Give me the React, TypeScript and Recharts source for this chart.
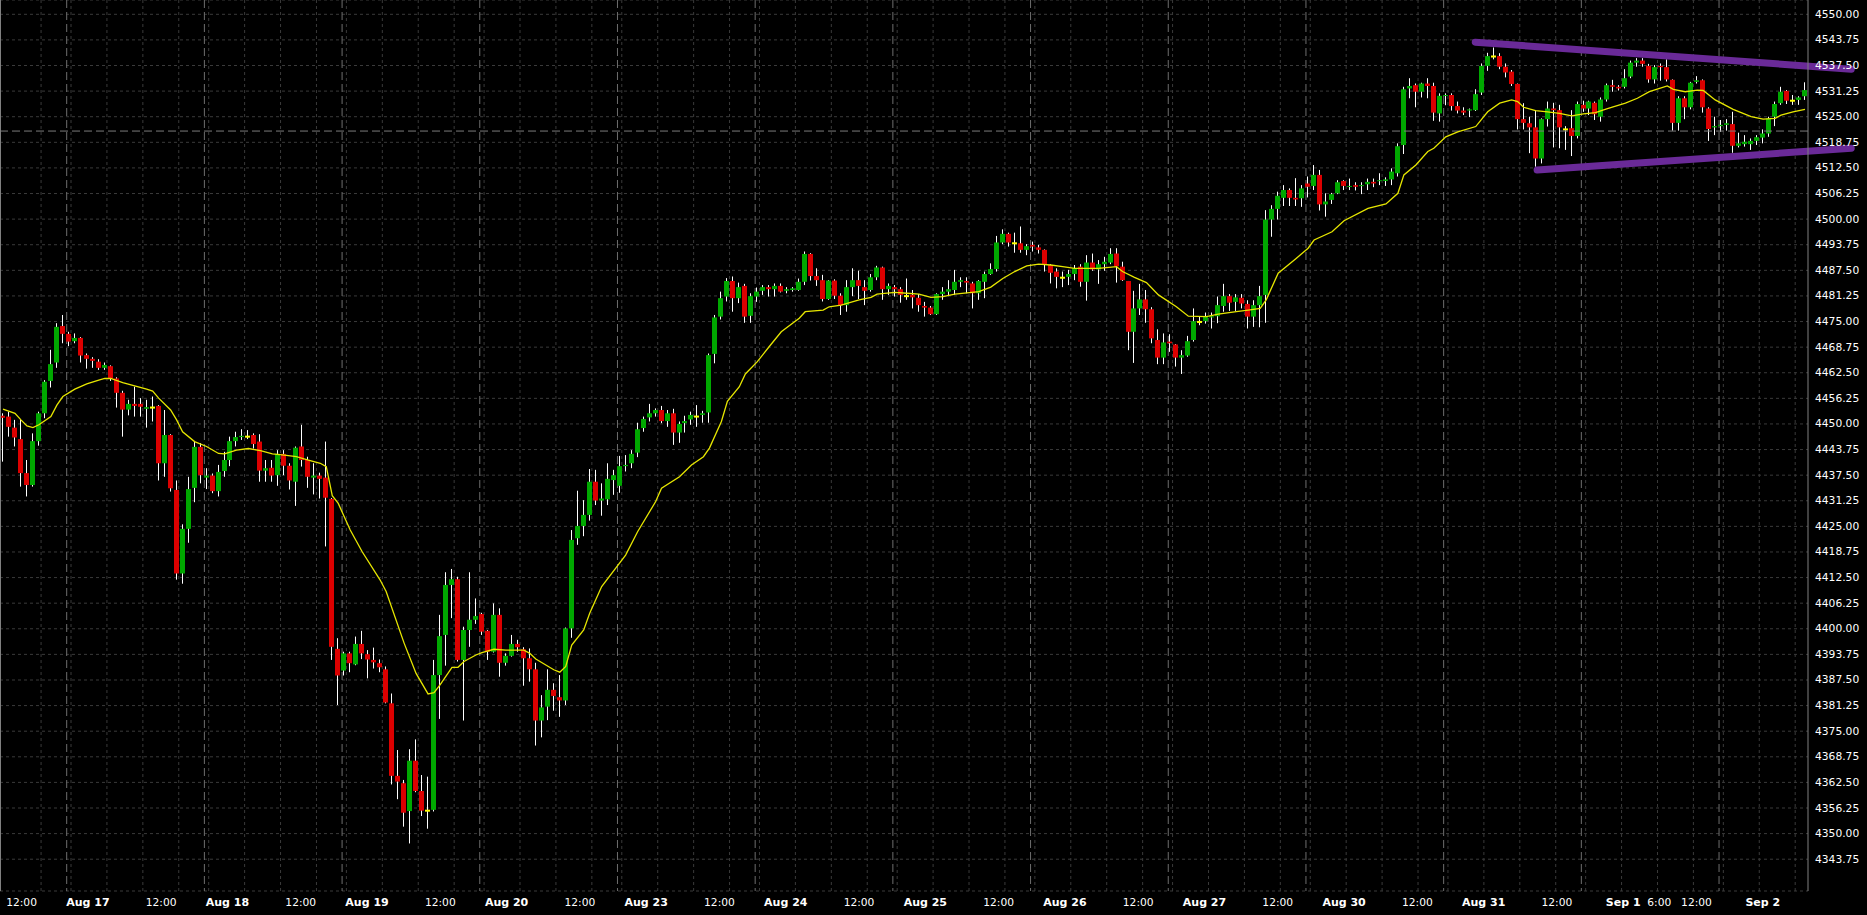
import React from 'react';
import { ComposedChart, Bar, Line, XAxis, YAxis, CartesianGrid, ReferenceLine } from 'recharts';

// ---------- data (hourly candles) ----------
const opens = [
  4452.0, 4451.8, 4449.1, 4446.3, 4438.0, 4435.1, 4445.8, 4452.6, 4460.5, 4465.0,
  4473.9, 4472.0, 4470.2, 4471.0, 4466.8, 4465.9, 4465.2, 4463.7, 4464.1, 4461.1,
  4457.6, 4453.5, 4454.9, 4454.9, 4453.7, 4454.0, 4454.4, 4440.4, 4447.3, 4433.9,
  4413.5, 4424.4, 4434.4, 4444.4, 4436.9, 4437.4, 4433.6, 4438.5, 4441.2, 4445.8,
  4446.8, 4446.9, 4447.3, 4445.7, 4438.6, 4439.3, 4437.5, 4442.7, 4439.8, 4435.9,
  4444.5, 4441.2, 4436.9, 4437.4, 4436.9, 4431.7, 4395.1, 4389.8, 4394.0, 4391.3,
  4396.3, 4393.8, 4392.4, 4391.6, 4390.1, 4381.8, 4364.1, 4362.3, 4355.5, 4367.8,
  4360.4, 4355.6, 4355.8, 4388.7, 4398.5, 4410.7, 4412.1, 4392.4, 4399.7, 4402.2,
  4403.6, 4399.5, 4394.4, 4403.4, 4391.7, 4393.4, 4396.3, 4395.0, 4392.8, 4390.1,
  4377.6, 4381.0, 4385.1, 4383.3, 4382.5, 4400.1, 4422.1, 4425.1, 4427.8, 4435.9,
  4431.3, 4431.6, 4436.3, 4434.9, 4439.7, 4440.4, 4443.0, 4449.0, 4451.6, 4452.6,
  4453.4, 4450.7, 4452.6, 4447.9, 4450.2, 4451.1, 4451.8, 4452.2, 4452.8, 4467.1,
  4476.2, 4481.1, 4484.9, 4480.7, 4483.7, 4476.4, 4481.1, 4482.5, 4483.4, 4482.9,
  4483.7, 4482.5, 4482.7, 4482.7, 4484.7, 4491.5, 4486.1, 4485.1, 4480.5, 4485.0,
  4481.3, 4479.0, 4483.4, 4485.1, 4483.4, 4482.7, 4485.8, 4488.2, 4482.9, 4483.4,
  4482.9, 4481.2, 4481.5, 4480.8, 4478.8, 4478.4, 4476.8, 4481.7, 4482.3, 4482.7,
  4484.7, 4484.9, 4484.3, 4481.9, 4484.7, 4486.6, 4487.8, 4494.3, 4496.4, 4494.1,
  4494.1, 4492.5, 4493.7, 4493.1, 4492.5, 4488.8, 4487.2, 4485.7, 4485.9, 4486.6,
  4488.4, 4484.7, 4489.4, 4487.7, 4489.0, 4489.4, 4491.6, 4488.4, 4484.9, 4472.5,
  4478.2, 4480.4, 4478.0, 4470.5, 4466.2, 4470.1, 4469.4, 4466.2, 4466.7, 4470.5,
  4474.9, 4475.1, 4476.0, 4476.3, 4478.8, 4481.2, 4479.8, 4480.8, 4479.3, 4476.2,
  4479.0, 4481.5, 4499.9, 4502.5, 4505.2, 4507.1, 4505.2, 4505.1, 4508.7, 4508.1,
  4510.8, 4503.6, 4504.7, 4506.3, 4509.3, 4507.9, 4508.3, 4508.1, 4508.5, 4509.1,
  4509.3, 4509.3, 4509.7, 4511.2, 4518.1, 4531.9, 4532.7, 4531.1, 4533.1, 4532.5,
  4525.8, 4530.1, 4530.3, 4527.6, 4526.5, 4526.5, 4526.6, 4530.9, 4537.4, 4539.7,
  4539.8, 4537.2, 4536.0, 4533.0, 4524.4, 4523.4, 4522.4, 4514.8, 4524.4, 4527.0,
  4526.6, 4521.9, 4522.2, 4520.3, 4527.9, 4527.0, 4528.4, 4525.0, 4529.2, 4532.7,
  4532.3, 4532.3, 4534.8, 4538.2, 4538.7, 4537.4, 4534.1, 4537.4, 4537.1, 4534.0,
  4523.5, 4529.5, 4527.3, 4533.5, 4533.9, 4527.0, 4522.4, 4522.7, 4523.0, 4523.2,
  4517.9, 4518.3, 4518.3, 4519.1, 4519.9, 4520.9, 4525.0, 4528.3, 4531.3, 4528.9,
  4529.1, 4530.0,
];
const highs = [
  4452.6, 4453.0, 4451.0, 4451.0, 4441.2, 4447.7, 4453.0, 4460.7, 4468.1, 4474.6,
  4476.6, 4472.5, 4472.1, 4471.2, 4467.2, 4466.3, 4465.8, 4465.0, 4464.3, 4461.4,
  4458.1, 4455.9, 4459.1, 4456.3, 4455.9, 4456.7, 4454.6, 4453.4, 4447.5, 4436.2,
  4425.5, 4437.1, 4445.7, 4445.3, 4439.2, 4437.9, 4440.0, 4443.2, 4446.9, 4448.1,
  4448.7, 4448.5, 4447.7, 4447.5, 4441.2, 4441.2, 4443.6, 4443.6, 4440.4, 4444.5,
  4449.8, 4442.0, 4440.4, 4438.1, 4445.7, 4431.9, 4397.7, 4394.4, 4394.4, 4398.1,
  4399.5, 4394.8, 4395.4, 4392.5, 4390.8, 4384.2, 4370.4, 4363.1, 4370.6, 4373.0,
  4364.3, 4363.9, 4392.4, 4403.4, 4413.8, 4414.6, 4412.7, 4400.5, 4413.8, 4407.4,
  4403.9, 4399.7, 4406.2, 4405.0, 4394.0, 4398.5, 4397.3, 4395.5, 4395.2, 4391.7,
  4383.8, 4390.1, 4386.7, 4388.7, 4400.3, 4424.1, 4433.7, 4431.4, 4439.0, 4438.8,
  4435.5, 4440.4, 4438.8, 4442.2, 4442.4, 4443.6, 4450.3, 4451.8, 4454.9, 4453.8,
  4454.4, 4453.4, 4453.7, 4450.6, 4452.0, 4453.0, 4454.6, 4453.2, 4467.2, 4476.6,
  4482.3, 4485.6, 4486.0, 4484.5, 4484.2, 4481.9, 4483.3, 4483.9, 4483.9, 4484.3,
  4484.3, 4483.4, 4483.4, 4485.5, 4492.1, 4491.7, 4488.0, 4486.4, 4485.1, 4485.3,
  4481.9, 4485.1, 4488.0, 4487.4, 4485.1, 4486.6, 4488.6, 4488.4, 4484.3, 4483.9,
  4483.4, 4485.5, 4482.7, 4481.7, 4479.8, 4478.8, 4481.9, 4483.4, 4485.1, 4487.6,
  4485.8, 4485.8, 4484.7, 4485.1, 4487.2, 4489.2, 4495.9, 4497.5, 4496.7, 4496.7,
  4498.2, 4493.9, 4494.5, 4493.7, 4492.6, 4489.0, 4488.0, 4487.2, 4487.6, 4488.8,
  4489.0, 4491.2, 4491.6, 4490.0, 4490.8, 4492.9, 4492.9, 4489.6, 4484.9, 4482.5,
  4484.2, 4482.7, 4478.5, 4473.1, 4472.1, 4471.9, 4469.5, 4468.0, 4471.5, 4478.2,
  4476.3, 4477.2, 4477.2, 4481.1, 4484.2, 4481.7, 4481.7, 4481.7, 4480.2, 4480.2,
  4483.7, 4502.2, 4503.4, 4506.7, 4508.3, 4507.5, 4510.0, 4508.3, 4510.4, 4513.2,
  4512.0, 4506.3, 4506.4, 4509.5, 4509.5, 4509.9, 4509.0, 4509.0, 4509.9, 4509.9,
  4511.2, 4510.2, 4512.4, 4518.5, 4532.3, 4534.4, 4533.1, 4533.3, 4534.4, 4533.3,
  4530.7, 4530.7, 4530.7, 4528.7, 4527.3, 4527.0, 4531.7, 4538.0, 4540.6, 4541.9,
  4540.5, 4538.0, 4536.4, 4533.1, 4528.3, 4525.0, 4526.6, 4524.6, 4528.7, 4528.4,
  4527.9, 4522.7, 4526.6, 4528.7, 4528.9, 4528.9, 4528.7, 4529.7, 4533.1, 4534.0,
  4532.7, 4536.6, 4538.7, 4539.3, 4539.3, 4537.9, 4537.6, 4538.0, 4539.0, 4534.1,
  4530.0, 4530.0, 4533.5, 4534.9, 4534.1, 4527.3, 4525.0, 4524.2, 4524.4, 4526.2,
  4521.1, 4520.5, 4519.7, 4520.5, 4521.9, 4525.0, 4528.7, 4532.3, 4531.5, 4530.3,
  4530.0, 4533.4,
];
const lows = [
  4440.8, 4446.9, 4444.5, 4434.7, 4432.3, 4434.7, 4444.7, 4451.4, 4458.9, 4463.7,
  4469.7, 4469.0, 4469.7, 4465.0, 4463.5, 4463.7, 4463.2, 4463.2, 4460.5, 4454.0,
  4446.9, 4452.1, 4451.8, 4451.8, 4449.1, 4450.6, 4436.2, 4437.1, 4433.5, 4412.0,
  4411.0, 4421.0, 4430.9, 4435.5, 4434.1, 4433.1, 4432.3, 4437.1, 4439.7, 4444.5,
  4446.1, 4446.3, 4444.0, 4435.9, 4435.9, 4435.9, 4434.9, 4437.5, 4434.0, 4430.0,
  4439.6, 4434.4, 4432.8, 4431.8, 4420.1, 4392.4, 4381.4, 4388.6, 4389.4, 4391.1,
  4392.6, 4387.9, 4390.3, 4389.4, 4381.8, 4362.0, 4358.4, 4351.7, 4347.6, 4360.1,
  4354.3, 4351.2, 4355.4, 4378.0, 4391.0, 4402.6, 4392.0, 4377.6, 4395.6, 4401.2,
  4398.5, 4392.4, 4394.2, 4388.3, 4391.0, 4393.2, 4394.4, 4386.1, 4387.1, 4371.5,
  4373.5, 4377.7, 4380.0, 4378.5, 4381.4, 4397.8, 4420.5, 4422.6, 4426.4, 4430.2,
  4427.6, 4430.2, 4432.7, 4433.2, 4438.4, 4439.2, 4441.9, 4448.1, 4450.6, 4451.8,
  4450.2, 4449.3, 4444.9, 4445.4, 4447.9, 4449.8, 4449.3, 4450.3, 4450.3, 4464.8,
  4475.5, 4479.9, 4477.4, 4479.5, 4474.7, 4474.7, 4479.8, 4481.5, 4481.1, 4481.1,
  4482.1, 4481.9, 4482.3, 4482.5, 4483.9, 4485.0, 4483.7, 4479.9, 4480.3, 4480.5,
  4476.6, 4477.4, 4481.2, 4480.5, 4479.0, 4482.3, 4485.1, 4480.3, 4481.5, 4481.1,
  4479.6, 4480.3, 4478.2, 4477.4, 4476.2, 4476.6, 4476.6, 4480.3, 4481.2, 4481.5,
  4483.4, 4481.9, 4478.2, 4480.3, 4480.7, 4486.4, 4487.2, 4493.9, 4493.3, 4491.8,
  4491.8, 4491.2, 4492.1, 4491.6, 4487.2, 4484.3, 4483.1, 4483.4, 4483.9, 4485.1,
  4483.5, 4480.1, 4487.4, 4484.2, 4487.4, 4489.0, 4484.5, 4484.9, 4468.0, 4464.9,
  4476.6, 4474.7, 4469.7, 4464.6, 4464.6, 4467.6, 4464.0, 4462.2, 4466.4, 4470.1,
  4474.1, 4474.5, 4473.3, 4474.6, 4477.4, 4477.6, 4477.6, 4478.2, 4473.3, 4473.7,
  4473.6, 4474.7, 4495.7, 4499.9, 4503.2, 4503.2, 4503.2, 4503.0, 4505.3, 4507.1,
  4502.1, 4500.6, 4503.7, 4506.1, 4507.1, 4507.1, 4507.0, 4506.1, 4507.1, 4507.8,
  4508.3, 4508.1, 4508.3, 4510.4, 4515.9, 4529.5, 4527.3, 4529.7, 4529.5, 4524.0,
  4523.8, 4527.8, 4526.5, 4525.8, 4525.4, 4524.9, 4526.4, 4530.3, 4536.2, 4539.0,
  4536.6, 4534.6, 4532.5, 4521.9, 4521.9, 4516.1, 4512.8, 4513.6, 4522.6, 4517.5,
  4517.3, 4516.9, 4515.4, 4519.7, 4526.2, 4525.4, 4524.2, 4523.8, 4528.7, 4531.1,
  4531.4, 4531.9, 4534.4, 4537.2, 4537.2, 4533.3, 4533.1, 4533.8, 4533.6, 4521.6,
  4521.6, 4524.4, 4526.8, 4533.1, 4526.0, 4519.1, 4520.5, 4521.3, 4521.6, 4516.2,
  4517.5, 4517.7, 4516.9, 4518.1, 4518.5, 4520.1, 4522.7, 4527.9, 4528.1, 4527.9,
  4527.9, 4529.1,
];
const closes = [
  4451.5, 4449.3, 4446.7, 4438.0, 4435.1, 4445.8, 4452.6, 4460.3, 4464.6, 4473.7,
  4472.0, 4470.1, 4471.0, 4466.7, 4465.9, 4465.4, 4463.7, 4464.4, 4461.1, 4457.6,
  4453.5, 4454.9, 4454.4, 4454.2, 4454.1, 4454.0, 4440.4, 4447.3, 4434.3, 4413.5,
  4424.4, 4434.1, 4444.4, 4437.5, 4437.4, 4433.6, 4438.3, 4441.2, 4445.8, 4446.8,
  4447.1, 4446.9, 4445.1, 4438.6, 4439.2, 4437.4, 4442.7, 4439.8, 4436.2, 4444.2,
  4441.2, 4437.1, 4437.4, 4436.6, 4432.0, 4395.6, 4388.6, 4394.0, 4391.6, 4396.3,
  4394.0, 4392.5, 4391.8, 4390.6, 4382.0, 4364.1, 4362.7, 4355.1, 4367.8, 4360.4,
  4355.6, 4355.6, 4388.7, 4398.2, 4410.7, 4412.1, 4392.4, 4399.7, 4402.2, 4403.1,
  4399.3, 4394.4, 4403.4, 4391.7, 4393.4, 4396.3, 4395.5, 4392.8, 4390.1, 4377.6,
  4380.8, 4385.1, 4383.6, 4382.5, 4400.1, 4421.7, 4425.1, 4427.8, 4435.9, 4431.3,
  4431.8, 4436.6, 4437.5, 4439.7, 4440.0, 4442.7, 4448.7, 4451.2, 4452.6, 4453.4,
  4450.7, 4452.6, 4447.9, 4450.0, 4450.7, 4452.2, 4451.8, 4452.6, 4466.8, 4476.0,
  4480.7, 4484.9, 4480.7, 4483.4, 4476.2, 4481.2, 4482.3, 4483.4, 4482.9, 4483.7,
  4482.3, 4482.9, 4483.1, 4484.7, 4491.5, 4486.1, 4485.1, 4480.5, 4485.0, 4481.3,
  4479.0, 4483.4, 4485.1, 4483.7, 4482.5, 4485.8, 4488.2, 4482.9, 4483.7, 4482.9,
  4481.5, 4481.2, 4480.9, 4479.0, 4478.4, 4476.8, 4481.7, 4482.3, 4482.9, 4484.7,
  4485.1, 4484.5, 4481.9, 4484.9, 4486.6, 4487.8, 4494.3, 4496.4, 4494.3, 4494.1,
  4492.5, 4493.4, 4493.3, 4492.5, 4489.0, 4486.9, 4485.9, 4485.7, 4486.6, 4488.0,
  4484.7, 4489.4, 4487.7, 4489.0, 4489.6, 4491.5, 4488.5, 4485.1, 4472.5, 4478.2,
  4480.4, 4478.0, 4470.9, 4466.2, 4469.9, 4469.7, 4466.2, 4466.8, 4470.2, 4475.1,
  4474.9, 4476.2, 4476.3, 4479.0, 4481.2, 4479.6, 4480.9, 4479.4, 4476.2, 4479.0,
  4481.2, 4499.9, 4502.5, 4505.7, 4507.1, 4505.2, 4504.8, 4507.5, 4507.9, 4510.8,
  4503.6, 4504.3, 4506.1, 4509.0, 4508.1, 4508.1, 4507.9, 4508.3, 4509.1, 4508.7,
  4509.5, 4509.7, 4511.6, 4517.8, 4531.7, 4532.5, 4531.1, 4533.1, 4532.5, 4526.0,
  4530.1, 4530.3, 4527.6, 4526.5, 4526.0, 4526.8, 4530.5, 4537.4, 4539.8, 4539.7,
  4537.2, 4535.8, 4533.0, 4524.4, 4523.5, 4522.4, 4514.8, 4524.4, 4527.0, 4526.6,
  4522.4, 4521.9, 4520.3, 4528.1, 4527.0, 4528.7, 4525.6, 4529.2, 4532.7, 4532.3,
  4531.9, 4534.4, 4538.2, 4538.7, 4537.9, 4534.1, 4537.1, 4537.1, 4534.1, 4523.5,
  4529.5, 4527.3, 4533.3, 4533.9, 4527.3, 4522.0, 4522.7, 4523.0, 4523.4, 4517.9,
  4518.5, 4518.9, 4519.1, 4520.0, 4520.9, 4524.6, 4528.1, 4531.1, 4528.9, 4528.9,
  4529.7, 4531.5,
];

// moving average (yellow line), read at these candle indexes
const maIdx = [
  0, 2, 3, 4, 5, 6, 8, 9, 10, 12, 14, 16, 17, 18, 20, 22, 24, 25, 26, 28, 29, 30, 32, 34, 36, 37, 39,
  41, 43, 45, 47, 49, 51, 53, 54, 55, 56, 58, 60, 63, 64, 67, 69, 71, 72, 73, 75, 76, 77, 79, 80, 82,
  84, 87, 88, 89, 92, 93, 94, 95, 97, 98, 100, 104, 106, 109, 110, 113, 115, 117, 118, 120, 121, 123,
  124, 126, 128, 130, 133, 134, 137, 138, 140, 143, 145, 146, 149, 151, 153, 155, 157, 159, 163, 165,
  167, 169, 171, 173, 175, 177, 179, 181, 183, 186, 187, 189, 191, 193, 196, 198, 201, 203, 206, 208,
  210, 211, 213, 216, 218, 219, 222, 224, 228, 231, 233, 234, 236, 238, 239, 241, 243, 246, 248, 250,
  252, 253, 254, 256, 258, 260, 262, 264, 266, 268, 271, 273, 275, 278, 279, 281, 283, 284, 286, 289,
  292, 294, 296, 297, 299, 301,
];
const maVal = [
  4453.6, 4452.6, 4451.0, 4449.5, 4449.1, 4449.8, 4451.8, 4454.6, 4456.7, 4458.5, 4459.8, 4460.7, 4461.1,
  4461.1, 4460.1, 4459.3, 4458.5, 4458.0, 4456.3, 4453.4, 4451.0, 4448.1, 4445.7, 4444.5, 4442.8, 4442.7,
  4443.6, 4444.0, 4443.5, 4442.7, 4442.4, 4442.0, 4441.2, 4440.4, 4439.6, 4432.5, 4430.6, 4424.1, 4418.8,
  4411.9, 4409.1, 4396.5, 4389.1, 4384.1, 4384.4, 4386.3, 4390.6, 4390.6, 4392.0, 4393.6, 4394.2, 4395.0,
  4394.8, 4394.8, 4394.0, 4392.6, 4390.0, 4389.4, 4390.8, 4396.0, 4399.7, 4403.8, 4410.3, 4418.0, 4423.7,
  4431.0, 4434.3, 4437.1, 4440.0, 4442.0, 4444.1, 4450.6, 4455.5, 4459.1, 4462.2, 4465.2, 4468.9, 4472.5,
  4475.8, 4477.4, 4477.8, 4478.6, 4479.0, 4480.3, 4480.9, 4481.7, 4482.1, 4481.9, 4481.7, 4480.9, 4481.1,
  4481.7, 4482.3, 4483.4, 4485.5, 4487.2, 4488.6, 4489.0, 4488.8, 4488.4, 4488.0, 4488.0, 4488.0, 4488.4,
  4487.2, 4485.8, 4484.5, 4481.5, 4478.6, 4476.3, 4476.2, 4476.8, 4477.4, 4477.8, 4478.2, 4480.3, 4486.8,
  4490.4, 4492.9, 4494.9, 4496.9, 4499.6, 4502.6, 4503.7, 4506.3, 4510.8, 4513.2, 4516.5, 4517.3, 4520.1,
  4521.3, 4522.6, 4526.2, 4528.3, 4529.1, 4528.7, 4527.3, 4526.5, 4526.2, 4525.8, 4525.2, 4525.7, 4526.0,
  4527.0, 4528.3, 4529.5, 4531.1, 4532.5, 4531.7, 4531.1, 4531.5, 4531.4, 4529.1, 4526.8, 4525.0, 4524.4,
  4524.6, 4525.4, 4526.2, 4526.8,
];

// price axis ticks
const yTicks = [
  4343.75, 4350.0, 4356.25, 4362.5, 4368.75, 4375.0, 4381.25, 4387.5, 4393.75, 4400.0, 4406.25, 4412.5,
  4418.75, 4425.0, 4431.25, 4437.5, 4443.75, 4450.0, 4456.25, 4462.5, 4468.75, 4475.0, 4481.25, 4487.5,
  4493.75, 4500.0, 4506.25, 4512.5, 4518.75, 4525.0, 4531.25, 4537.5, 4543.75, 4550.0,
];
// time axis
const dayLabels = ['Aug 17', 'Aug 18', 'Aug 19', 'Aug 20', 'Aug 23', 'Aug 24', 'Aug 25', 'Aug 26', 'Aug 27', 'Aug 30', 'Aug 31', 'Sep 1', 'Sep 2'];
const dayStartIdx = [11, 34, 57, 80, 103, 126, 149, 172, 195, 218, 241, 264, 287];
const extraLabelDay = 'Sep 1';
const extraLabelText = '6:00';
const noonText = '12:00';

// reference lines (drawn annotations) in [candle index, price]
const upperTrend = [[245.6, 4543.2], [308.2, 4536.6]];
const lowerTrend = [[255.9, 4512.0], [308.2, 4517.3]];
const lastPriceLine = 4521.5;

// ---------- layout ----------
const W = 1867;
const H = 915;
const AXIS_W = 59;
const AXIS_H = 24;
const PLOT_W = W - AXIS_W;
const PLOT_H = H - AXIS_H;
const N = opens.length;
const X_DOMAIN: [number, number] = [-0.5, N - 0.5];
const Y_DOMAIN: [number, number] = [4335.99, 4553.49];
const FONT = '"DejaVu Sans", Verdana, sans-serif';

const xPix = (u: number) => ((u - X_DOMAIN[0]) / (X_DOMAIN[1] - X_DOMAIN[0])) * PLOT_W;

const maMap: Record<number, number> = {};
maIdx.forEach((idx, k) => { maMap[idx] = maVal[k]; });

const data = opens.map((o, i) => ({
  i,
  o,
  h: highs[i],
  l: lows[i],
  c: closes[i],
  range: [lows[i], highs[i]],
  ma: maMap[i] !== undefined ? maMap[i] : null,
}));

// label positions (in candle units) along the time axis
const labelBase = 14.63;
const labelStep = 23.237;
type XT = { v: number; t: string; b: boolean };
const xTickList: XT[] = [{ v: labelBase - 11.04, t: noonText, b: false }];
dayLabels.forEach((d, k) => {
  const p = labelBase + k * labelStep;
  xTickList.push({ v: p, t: d, b: true });
  if (d === extraLabelDay) xTickList.push({ v: p + 6, t: extraLabelText, b: false });
  if (p + 12.2 < X_DOMAIN[1]) xTickList.push({ v: p + 12.2, t: noonText, b: false });
});
const xTicks = xTickList.map((t) => t.v);

const gridPoints: number[] = [];
[dayStartIdx[0] - 23, ...dayStartIdx].forEach((d) => {
  [0, 6, 12, 18].forEach((k) => {
    const u = d + k + 0.36;
    if (u > 3 && u < X_DOMAIN[1]) gridPoints.push(xPix(u));
  });
});
const sepPoints = dayStartIdx.map((d) => xPix(d - 0.36));

const Candle = (props: any) => {
  const { x, y, width, height, payload } = props;
  if (x == null || y == null || !payload) return null;
  const { o, h, l, c } = payload;
  const top = Math.min(y, y + height);
  const hgt = Math.abs(height);
  const yOf = (v: number) => (h === l ? top : top + ((h - v) / (h - l)) * hgt);
  const cx = x + width / 2;
  const bx = Math.round(cx - 2.5);
  const wx = bx + 2.5;
  const yo = yOf(o);
  const yc = yOf(c);
  let color: string;
  let by: number;
  let bh: number;
  if (o === c) {
    color = '#ffff00';
    by = yo - 1;
    bh = 2;
  } else {
    color = c > o ? '#00a800' : '#dc0000';
    by = Math.min(yo, yc);
    bh = Math.max(1, Math.abs(yo - yc));
  }
  return (
    <g>
      <line x1={wx} x2={wx} y1={top} y2={top + Math.max(hgt, 1)} stroke="#ffffff" strokeWidth={1} />
      <rect x={bx} y={by} width={5} height={bh} fill={color} />
    </g>
  );
};

const XTick = (props: any) => {
  const { x, payload } = props;
  const t = xTickList.find((tt) => Math.abs(tt.v - payload.value) < 1e-6);
  if (!t) return null;
  return (
    <text
      x={x}
      y={PLOT_H + 11}
      textAnchor="middle"
      dominantBaseline="central"
      fill="#ffffff"
      fontFamily={FONT}
      fontSize={t.b ? 11 : 10.7}
      fontWeight={t.b ? 'bold' : 'normal'}
    >
      {t.t}
    </text>
  );
};

const YTick = (props: any) => {
  const { y, payload } = props;
  return (
    <text x={PLOT_W + 7} y={y} dominantBaseline="central" textAnchor="start" fill="#ffffff" fontFamily={FONT} fontSize={10.7}>
      {Number(payload.value).toFixed(2)}
    </text>
  );
};

export default function App() {
  return (
    <div style={{ position: 'absolute', left: 0, top: 0, width: W, height: H, background: '#000', overflow: 'hidden' }}>
      <ComposedChart width={W} height={H} data={data} margin={{ top: 0, right: 0, bottom: 0, left: 0 }}>
        <CartesianGrid stroke="#3a3a3a" strokeDasharray="3 3" verticalPoints={gridPoints} />
        <CartesianGrid stroke="#6e6e6e" strokeDasharray="8 4" horizontal={false} verticalPoints={sepPoints} />
        <XAxis dataKey="i" type="category" hide />
        <XAxis
          xAxisId="num"
          type="number"
          domain={X_DOMAIN}
          allowDataOverflow
          ticks={xTicks}
          interval={0}
          tick={<XTick />}
          tickLine={false}
          axisLine={{ stroke: '#808080' }}
          height={AXIS_H}
        />
        <YAxis
          orientation="right"
          type="number"
          domain={Y_DOMAIN}
          allowDataOverflow
          ticks={yTicks}
          interval={0}
          tick={<YTick />}
          tickLine={false}
          axisLine={{ stroke: '#808080' }}
          width={AXIS_W}
        />
        <ReferenceLine y={lastPriceLine} stroke="#7a7a7a" strokeDasharray="8 4" />
        <Bar dataKey="range" barSize={5} shape={<Candle />} isAnimationActive={false} />
        <Line
          dataKey="ma"
          type="linear"
          stroke="#e6e600"
          strokeWidth={1.3}
          dot={false}
          activeDot={false}
          connectNulls
          isAnimationActive={false}
        />
        <ReferenceLine
          xAxisId="num"
          segment={[{ x: upperTrend[0][0], y: upperTrend[0][1] }, { x: upperTrend[1][0], y: upperTrend[1][1] }]}
          stroke="#6a2a98"
          strokeWidth={7}
          strokeLinecap="round"
          ifOverflow="visible"
        />
        <ReferenceLine
          xAxisId="num"
          segment={[{ x: lowerTrend[0][0], y: lowerTrend[0][1] }, { x: lowerTrend[1][0], y: lowerTrend[1][1] }]}
          stroke="#6a2a98"
          strokeWidth={7}
          strokeLinecap="round"
          ifOverflow="visible"
        />
      </ComposedChart>
      <div style={{ position: 'absolute', left: 0, top: 0, width: 1, height: PLOT_H, background: '#808080' }} />
    </div>
  );
}
